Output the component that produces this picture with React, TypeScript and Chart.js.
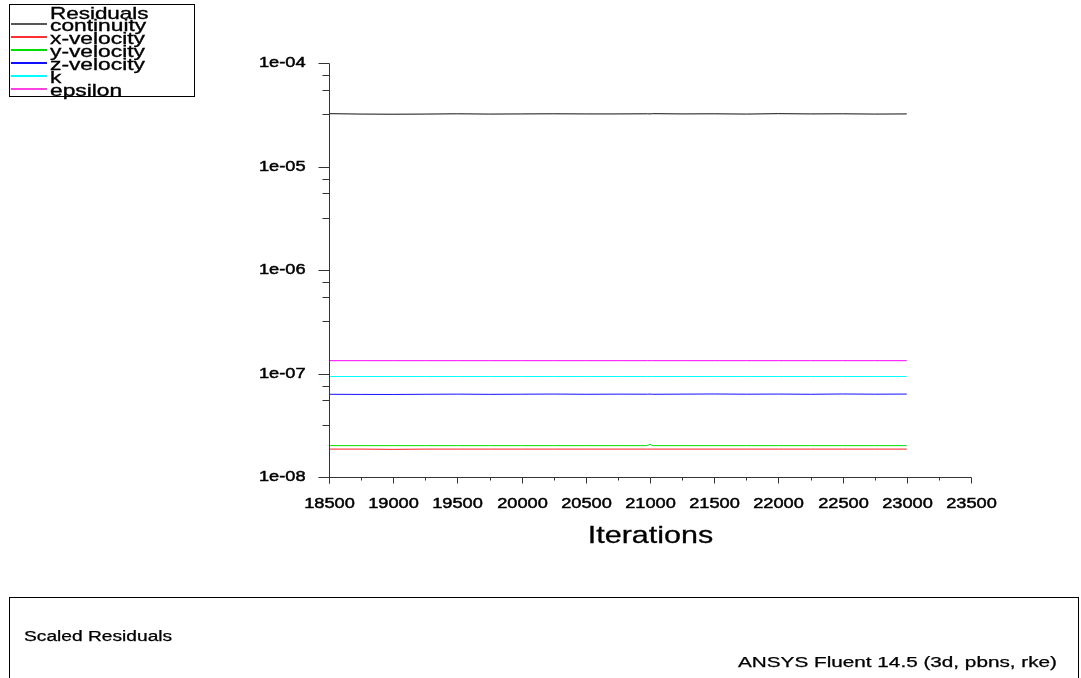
import React, { useEffect, useRef } from "react";
import { Chart, registerables } from "chart.js";

Chart.register(...registerables);

// ---- data ----
const iterations = [18500, 18750, 19000, 19250, 19500, 19750, 20000, 20250, 20500, 20750, 20980, 21000, 21020, 21250, 21500, 21750, 22000, 22250, 22500, 22750, 23000];
const continuity = [3.24e-5, 3.21e-5, 3.2e-5, 3.21e-5, 3.23e-5, 3.21e-5, 3.22e-5, 3.23e-5, 3.22e-5, 3.22e-5, 3.23e-5, 3.22e-5, 3.24e-5, 3.22e-5, 3.23e-5, 3.21e-5, 3.24e-5, 3.22e-5, 3.23e-5, 3.21e-5, 3.22e-5];
const xVelocity = [1.86e-8, 1.86e-8, 1.85e-8, 1.86e-8, 1.86e-8, 1.86e-8, 1.86e-8, 1.86e-8, 1.86e-8, 1.86e-8, 1.86e-8, 1.86e-8, 1.86e-8, 1.86e-8, 1.86e-8, 1.86e-8, 1.86e-8, 1.86e-8, 1.86e-8, 1.86e-8, 1.86e-8];
const yVelocity = [2.01e-8, 2.01e-8, 2.01e-8, 2.01e-8, 2.01e-8, 2.01e-8, 2.01e-8, 2.01e-8, 2.01e-8, 2.01e-8, 2.01e-8, 2.07e-8, 2.01e-8, 2.01e-8, 2.01e-8, 2.01e-8, 2.01e-8, 2.01e-8, 2.01e-8, 2.01e-8, 2.01e-8];
const zVelocity = [6.3e-8, 6.28e-8, 6.27e-8, 6.3e-8, 6.32e-8, 6.29e-8, 6.31e-8, 6.33e-8, 6.3e-8, 6.32e-8, 6.31e-8, 6.33e-8, 6.3e-8, 6.32e-8, 6.34e-8, 6.31e-8, 6.33e-8, 6.3e-8, 6.34e-8, 6.31e-8, 6.33e-8];
const kResidual = [9.35e-8, 9.35e-8, 9.35e-8, 9.35e-8, 9.35e-8, 9.35e-8, 9.35e-8, 9.35e-8, 9.35e-8, 9.35e-8, 9.35e-8, 9.35e-8, 9.35e-8, 9.35e-8, 9.35e-8, 9.35e-8, 9.35e-8, 9.35e-8, 9.35e-8, 9.35e-8, 9.35e-8];
const epsilon = [1.33e-7, 1.33e-7, 1.33e-7, 1.33e-7, 1.33e-7, 1.33e-7, 1.33e-7, 1.33e-7, 1.33e-7, 1.33e-7, 1.33e-7, 1.33e-7, 1.33e-7, 1.33e-7, 1.33e-7, 1.33e-7, 1.33e-7, 1.33e-7, 1.33e-7, 1.33e-7, 1.33e-7];

const seriesNames = ["continuity", "x-velocity", "y-velocity", "z-velocity", "k", "epsilon"];
const seriesValues = [continuity, xVelocity, yVelocity, zVelocity, kResidual, epsilon];
const seriesColors = ["#111111", "#ff2020", "#00e000", "#1010ff", "#00ffff", "#ff00ff"];
const legendColors = ["#555555", "#ff3030", "#00e000", "#1010ff", "#00ffff", "#ff40e0"];

const xTickValues = [18500, 19000, 19500, 20000, 20500, 21000, 21500, 22000, 22500, 23000, 23500];
const xMinorTickValues = [18750, 19250, 19750, 20250, 20750, 21250, 21750, 22250, 22750, 23250];
const yTickValues = [1e-4, 1e-5, 1e-6, 1e-7, 1e-8];
const yTickLabels = ["1e-04", "1e-05", "1e-06", "1e-07", "1e-08"];
const yMinorFactors = [0.76, 0.55, 0.32];

const legendTitle = "Residuals";
const xTitle = "Iterations";
const footerLeft = "Scaled Residuals";
const footerRight = "ANSYS Fluent 14.5 (3d, pbns, rke)";

const FONT = "'Liberation Sans', Arial, sans-serif";

function stretchText(
  ctx: CanvasRenderingContext2D,
  text: string,
  x: number,
  y: number,
  size: number,
  sx: number,
  align: "left" | "right" | "center",
  baseline: CanvasTextBaseline = "middle",
  bold = 0.45
) {
  ctx.save();
  ctx.font = `${size}px ${FONT}`;
  ctx.textBaseline = baseline;
  ctx.textAlign = "left";
  ctx.fillStyle = "#000";
  ctx.strokeStyle = "#000";
  const w = ctx.measureText(text).width * sx;
  const x0 = align === "left" ? x : align === "right" ? x - w : x - w / 2;
  ctx.translate(x0, y);
  ctx.scale(sx, 1);
  ctx.fillText(text, 0, 0);
  if (bold > 0) {
    ctx.lineWidth = bold;
    ctx.strokeText(text, 0, 0);
  }
  ctx.restore();
}

const decorPlugin = {
  id: "fluentDecor",
  beforeDraw(chart: any) {
    const ctx = chart.ctx as CanvasRenderingContext2D;
    ctx.save();
    ctx.fillStyle = "#fff";
    ctx.fillRect(0, 0, chart.width, chart.height);
    ctx.restore();
  },
  afterDraw(chart: any) {
    const ctx = chart.ctx as CanvasRenderingContext2D;
    const xs = chart.scales.x;
    const ys = chart.scales.y;
    const px = (v: number) => Math.round(xs.getPixelForValue(v)) + 0.5;
    const py = (v: number) => Math.round(ys.getPixelForValue(v)) + 0.5;
    const axisX = px(xTickValues[0]);
    const axisY = py(yTickValues[yTickValues.length - 1]);
    const topY = py(yTickValues[0]);
    const rightX = px(xTickValues[xTickValues.length - 1]);

    ctx.save();
    ctx.strokeStyle = "#333";
    ctx.lineWidth = 1;
    ctx.beginPath();
    ctx.moveTo(axisX, topY);
    ctx.lineTo(axisX, axisY + 6);
    ctx.moveTo(axisX, axisY);
    ctx.lineTo(rightX, axisY);
    yTickValues.forEach((v) => {
      const y = py(v);
      ctx.moveTo(axisX - 11, y);
      ctx.lineTo(axisX, y);
    });
    for (let i = 0; i < yTickValues.length - 1; i++) {
      yMinorFactors.forEach((f) => {
        const y = py(yTickValues[i] * f);
        ctx.moveTo(axisX - 7, y);
        ctx.lineTo(axisX, y);
      });
    }
    xTickValues.forEach((v) => {
      const x = px(v);
      ctx.moveTo(x, axisY);
      ctx.lineTo(x, axisY + 6);
    });
    xMinorTickValues.forEach((v) => {
      const x = px(v);
      ctx.moveTo(x, axisY);
      ctx.lineTo(x, axisY + 3);
    });
    ctx.stroke();
    ctx.restore();

    yTickValues.forEach((v, i) => {
      stretchText(ctx, yTickLabels[i], axisX - 24, py(v), 14, 1.3, "right");
    });
    xTickValues.forEach((v) => {
      stretchText(ctx, String(v), px(v), axisY + 27, 14, 1.3, "center");
    });
    stretchText(ctx, xTitle, (axisX + rightX) / 2, axisY + 59, 24, 1.27, "center", "middle", 0.3);

    // legend box
    ctx.save();
    ctx.strokeStyle = "#000";
    ctx.lineWidth = 1;
    ctx.strokeRect(9.5, 4.5, 185, 92);
    ctx.restore();
    stretchText(ctx, legendTitle, 50, 18.5, 17, 1.32, "left", "alphabetic", 0.35);
    seriesNames.forEach((name, i) => {
      const ly = 24 + i * 13;
      ctx.save();
      ctx.strokeStyle = legendColors[i];
      ctx.lineWidth = 2;
      ctx.beginPath();
      ctx.moveTo(11, ly);
      ctx.lineTo(47, ly);
      ctx.stroke();
      ctx.restore();
      stretchText(ctx, name, 50, ly + 6.5, 17, 1.34, "left", "alphabetic", 0.35);
    });

    // footer box
    ctx.save();
    ctx.strokeStyle = "#000";
    ctx.lineWidth = 1;
    ctx.strokeRect(9.5, 597.5, 1069, 100);
    ctx.restore();
    stretchText(ctx, footerLeft, 24, 637, 14, 1.37, "left", "middle", 0.25);
    stretchText(ctx, footerRight, 1057, 663, 14, 1.48, "right", "middle", 0.25);
  },
};

export default function App() {
  const canvasRef = useRef<HTMLCanvasElement | null>(null);

  useEffect(() => {
    if (!canvasRef.current) return;
    const chart = new Chart(canvasRef.current, {
      type: "line",
      data: {
        datasets: seriesNames.map((name, i) => ({
          label: name,
          data: iterations.map((x, j) => ({ x, y: seriesValues[i][j] })),
          borderColor: seriesColors[i],
          backgroundColor: seriesColors[i],
          borderWidth: 1,
          pointRadius: 0,
          tension: 0,
          fill: false,
        })),
      },
      options: {
        responsive: false,
        animation: false,
        devicePixelRatio: 1,
        layout: { padding: { left: 329, right: 110, top: 63, bottom: 201 } },
        plugins: { legend: { display: false }, tooltip: { enabled: false }, title: { display: false } },
        scales: {
          x: { type: "linear", min: 18500, max: 23500, display: false },
          y: { type: "logarithmic", min: 1e-8, max: 1e-4, display: false },
        },
      },
      plugins: [decorPlugin],
    });
    return () => chart.destroy();
  }, []);

  return (
    <div style={{ position: "fixed", left: 0, top: 0, width: 1081, height: 678, background: "#fff" }}>
      <canvas ref={canvasRef} width={1081} height={678} style={{ display: "block" }} />
    </div>
  );
}
